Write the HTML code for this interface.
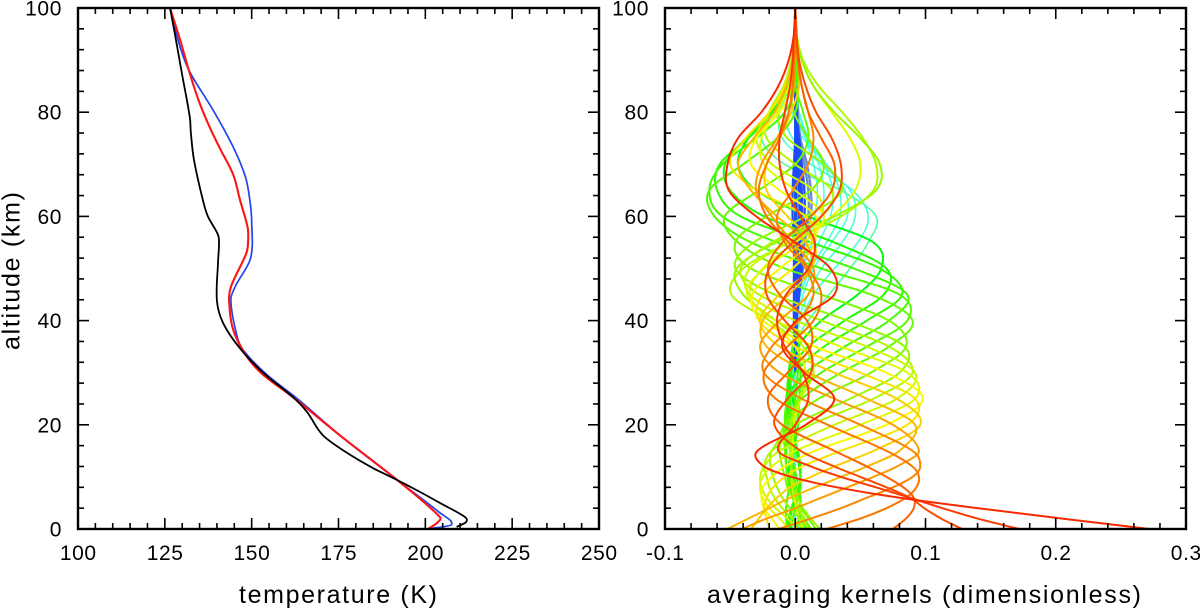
<!DOCTYPE html>
<html lang="en">
<head>
<meta charset="utf-8">
<title>Temperature profiles and averaging kernels</title>
<style>
html,body{margin:0;padding:0;background:#fff;}
svg{display:block;font-family:"Liberation Sans",Arial,sans-serif;}
</style>
</head>
<body>
<svg id="chart" xmlns="http://www.w3.org/2000/svg" width="1200" height="609" viewBox="0 0 1200 609">
  <defs>
    <clipPath id="clip-left"><rect x="78" y="8" width="521" height="521"/></clipPath>
    <clipPath id="clip-right"><rect x="665" y="8" width="521" height="521"/></clipPath>
  </defs>
  <g id="left-series" clip-path="url(#clip-left)"></g>
  <g id="right-series" clip-path="url(#clip-right)"></g>
  <g id="axes"></g>
  <text x="239" y="603" font-size="25" textLength="198" lengthAdjust="spacing">temperature (K)</text>
  <text x="707" y="603" font-size="25" textLength="434" lengthAdjust="spacing">averaging kernels (dimensionless)</text>
  <text transform="translate(19.5,350) rotate(-90)" font-size="25" textLength="158" lengthAdjust="spacing">altitude (km)</text>
</svg>
<script>
// ---- temperature panel data: altitude (km) and temperature (K) ----
const blackAltitudes = [0.4,1.3,2.3,5,7.1,9.4,11.7,14.6,18,22.5,25.3,30,34.7,39.5,43.8,51,54.9,56.5,60,63,70.8,76,79,87.5,95,100];
const blackTemps = [209,211.7,211.4,204.2,198.5,191.9,184.9,177.5,170.5,165.9,161.9,153.3,146.6,141.8,140,140.3,140.6,140.3,137.4,136,133.4,132.5,132.2,129.9,127.9,126.5];
const blueAltitudes = [0,0.8,3.2,9.4,17.5,25.1,29.6,34.4,37,44,46.7,52,59,63,67.6,73.3,80.4,87.7,92.5,100];
const blueTemps = [200.8,207.5,204,191.9,176.3,163,154.4,147.5,145.8,144,145.4,149.7,150,149.5,148.2,144.7,138.9,132.2,129.4,126.5];
const redAltitudes = [0,1.3,2.3,9.4,17.5,25.3,29.6,33,38.2,44,46.8,53,55.5,58,63,68,73,77,81.6,87.4,93.9,100];
const redTemps = [200.8,203.6,204.2,191.9,176.3,161.9,153.3,148.7,144.7,143.5,144.2,148.5,149,148.8,146.7,144.7,140.9,138,135.1,132.2,129.4,126.5];

// ---- tick labels ----
const tempTicks = [100,125,150,175,200,225,250];
const kernelTicks = ['-0.1','0.0','0.1','0.2','0.3'];
const altitudeTicks = [0,20,40,60,80,100];

// ---- averaging kernel data: shared altitude grid (km), values in 1e-3 ----
const kernelAltitudes = [0,2,4,6,8,10,12,15,20,25,30,35,40,45,50,55,60,65,70,75,80,85,90,95,100];
const kernelC01 = [272,205,140,80,32,-3,-24,-29,8,30, 7,-10,1,30,27,0,-30,-51,-52,-44, -26,-13,-5,-1,0];
const kernelC02 = [172,140,113,88,62,35,12,-13,0,10, 6,-8,-14,-7,10,15,4,-7,-12,-12, -8,-4,-2,-1,0];
const kernelC03 = [128,112,99,88,70,50,30,4,-16,-6, 12,10,-8,-22,-20,-2,20,34,35,28, 16,8,3,1,0];
const kernelC04 = [75,85,91,91,83,70,55,30,-10,-21, -6,12,9,-12,-21,-10,12,28,30,20, 10,5,2,1,0];
const kernelC05 = [24,50,70,85,93,95,90,70,25,-15, -24,-6,14,20,10,-5,-22,-28,-22,-12, -5,-2,-1,0,0];
const kernelC06 = [-13,12,35,55,75,90,96,90,50,5, -24,-18,3,14,8,-8,-14,-2,10,14, 10,5,2,1,0];
const kernelC07 = [-41,-22,0,20,40,60,78,95,75,30, -12,-27,-12,10,14,-2,-18,-30,-26,-14, -5,-1,0,0,0];
const kernelC08 = [-52,-36,-20,-4,15,35,55,80,92,55, 10,-22,-25,-5,12,8,-14,-34,-44,-32, -16,-7,-2,0,0];
const kernelC09 = [-34,-28,-22,-14,-4,12,30,60,96,78, 30,-12,-27,-12,12,14,-6,-22,-22,-12, -3,3,2,0,0];
const kernelC10 = [-20,-22,-24,-22,-17,-8,5,35,86,92, 50,0,-28,-25,-2,15,8,-30,-50,-38, -20,-8,-2,0,0];
const kernelC11 = [-12,-18,-24,-26,-25,-18,-8,15,70,98, 70,15,-25,-33,-12,12,16,-12,-34,-30, -12,-3,-1,0,0];
const kernelC12 = [-5,-12,-20,-25,-27,-25,-18,0,50,92, 86,35,-15,-37,-24,6,22,0,-24,-26, -14,-5,-1,0,0];
const kernelC13 = [2,-6,-15,-22,-26,-27,-24,-12,30,78, 92,55,0,-35,-35,-6,20,14,-18,-30, -20,-8,-2,0,0];
const kernelC14 = [6,-2,-10,-16,-20,-22,-24,-18,12,60, 90,72,20,-28,-42,-18,20,28,0,-22, -20,-9,-3,0,0];
const kernelC15 = [10,4,-4,-10,-14,-17,-19,-18,0,42, 80,84,40,-16,-46,-32,8,36,22,-6, -14,-8,-3,0,0];
const kernelC16 = [16,10,4,-2,-6,-8,-10,-12,-8,18, 58,85,72,20,-34,-46,-22,12,22,10, -1,-4,-2,0,0];
const kernelC17 = [12,7,2,-2,-5,-6,-7,-8,-8,5, 35,72,90,58,-8,-44,-54,-28,0,10, 6,0,-1,0,0];
const kernelC18 = [10,6,2,-1,-3,-4,-4,-4,-8,-4, 20,55,86,80,20,-34,-62,-66,-40,-14, 0,2,1,0,0];
const kernelC19 = [8,5,2,0,-1,-2,-2,-2,-6,-6, 8,38,72,86,45,-14,-56,-66,-56,-30, -8,0,1,0,0];
const kernelC20 = [-6,-5,-3,0,3,4,4,2,-4,-7, 0,22,55,82,65,12,-42,-60,-58,-36, -16,-5,-1,0,0];
const kernelC21 = [-4,-4,-2,1,3,4,3,1,-3,-6, -4,10,38,68,70,30,-24,-50,-54,-38, -18,-6,-1,0,0];
const kernelC22 = [4,3,1,-2,-4,-5,-5,-3,0,-2, -5,2,20,48,66,60,10,-30,-44,-36, -18,-6,-1,0,0];
const kernelC23 = [2,2,1,-1,-3,-4,-3,-1,2,-1, -4,-2,10,26,42,56,62,35,-8,-26, -16,-6,-1,0,0];
const kernelC24 = [0,0,0,0,0,0,0,0,0,0, -2,-2,4,14,30,48,56,44,12,-10, -12,-4,-1,0,0];
const kernelC25 = [0,0,0,0,0,0,0,0,0,0, -1,-1,2,10,20,36,46,42,20,-2, -8,-3,-1,0,0];
const kernelC26 = [0,0,0,0,0,0,0,0,0,0, -1,0,1,6,14,28,40,38,24,6, -2,-2,-1,0,0];
const kernelC27 = [0,0,0,0,0,0,0,0,0,0, 0,0,1,4,12,24,34,34,24,8, 1,-1,0,0,0];
const kernelC28 = [0,0,0,0,0,0,0,0,0,0, 0,0,0,3,9,18,27,29,22,10, 3,0,0,0,0];
const kernelC29 = [0,0,0,0,0,0,0,0,0,0, 0,0,0,2,6,13,20,22,18,10, 3,1,0,0,0];
const kernelC30 = [0,0,0,0,0,0,0,0,0,0, 0,0,0,1,4,9,15,17,14,8, 3,1,0,0,0];
const kernelL01 = [19,12,6,2,0,-2,-3,-4,-4,2, 12,10,-15,-40,-45,-15,30,62,65,50, 30,14,5,1,0];
const kernelL02 = [10,6,3,0,-2,-3,-3,-3,-3,4, 14,6,-20,-49,-40,-5,35,60,62,52, 36,18,6,1,0];
const kernelL03 = [6,3,1,-1,-2,-3,-3,-2,-1,4, 8,0,-20,-35,-25,0,28,46,50,42, 28,14,5,1,0];
const kernelG01 = [-6,-7,-7,-6,-5,-6,-7,-7,-6,-5, -3,-1,0,1,1,0,0,0,0,0, 0,0,0,0,0];
const kernelG02 = [-3,-2,0,2,4,4,3,1,-2,-4, -5,-2,0,2,2,0,0,0,0,0, 0,0,0,0,0];
const kernelG03 = [1,3,4,4,3,1,-1,-3,-3,0, 2,3,1,0,0,0,0,0,0,0, 0,0,0,0,0];
const kernelG04 = [5,5,4,3,1,-1,-2,-1,2,3, 4,2,0,0,0,0,0,0,0,0, 0,0,0,0,0];

// Blue kernels are only visible from 30 km to 85 km, so they use their own grid.
const blueKernelAltitudes = [30,35,40,45,50,55,60,65,70,75,80,85];
const kernelB01 = [0,0,-1,-1,-1,-1,-2,-2,-1,0,0,0];
const kernelB02 = [0,0,0,0,0,0,0,0,0,0,0,0];
const kernelB03 = [0,1,0,1,1,1,1,1,1,1,0,0];
const kernelB04 = [0,1,1,1,2,1,3,3,2,1,1,0];
const kernelB05 = [0,0,1,2,3,2,4,4,3,1,1,0];
const kernelB06 = [0,0,1,3,4,3,5,5,4,2,1,0];
const kernelB07 = [0,0,1,3,5,4,7,7,5,3,1,1];
const kernelB08 = [0,0,1,2,5,6,10,10,7,3,1,0];
const kernelB09 = [0,0,0,2,6,7,12,12,9,4,2,1];

// Drawn in this order: cyan and band greens, then blue, then the rest, with reds on top.
const kernelSeries = [kernelC30,kernelC29,kernelC28,kernelC27,kernelC26,kernelC25,kernelC24,kernelC23,kernelG01,kernelG02,kernelG03,kernelG04,
  kernelB09,kernelB08,kernelB07,kernelB06,kernelB05,kernelB04,kernelB03,kernelB02,kernelB01,
  kernelC22,kernelC21,kernelC20,kernelC19,kernelC18,kernelC17,kernelC16,
  kernelL03,kernelL02,kernelL01,
  kernelC15,kernelC14,kernelC13,kernelC12,kernelC11,kernelC10,kernelC09,kernelC08,kernelC07,kernelC06,kernelC05,kernelC04,kernelC03,kernelC02,kernelC01];
const kernelHues = [172,172,172,170,170,168,165,150,105,105,105,105,
  222,222,228,228,228,228,228,228,228,
  125,112,108,104,100,96,90,
  66,78,84,
  84,78,72,66,60,55,50,44,38,32,28,24,18,14,10];

// ---- axis functions ----
const PANEL_TOP = 8, PANEL_BOTTOM = 529, LEFT_X0 = 78, LEFT_X1 = 599, RIGHT_X0 = 665, RIGHT_X1 = 1186;
function yAlt(z){ return PANEL_BOTTOM - (z / 100) * (PANEL_BOTTOM - PANEL_TOP); }
function xTemp(t){ return LEFT_X0 + ((t - 100) / 150) * (LEFT_X1 - LEFT_X0); }
function xKernel(k){ return RIGHT_X0 + ((k + 0.1) / 0.4) * (RIGHT_X1 - RIGHT_X0); }

const SVGNS = 'http://www.w3.org/2000/svg';
const leftSeries = document.getElementById('left-series');
const rightSeries = document.getElementById('right-series');
const axes = document.getElementById('axes');

// Smooth path through data points, expressed as cubic Bezier segments in (value, altitude).
function splinePath(alts, values, xScale){
  const n = values.length;
  const slope = values.map(function(v, i){
    const a = Math.max(0, i - 1), b = Math.min(n - 1, i + 1);
    return (values[b] - values[a]) / (alts[b] - alts[a]);
  });
  let d = 'M' + xScale(values[0]).toFixed(2) + ' ' + yAlt(alts[0]).toFixed(2);
  for (let i = 0; i < n - 1; i++){
    const h = alts[i + 1] - alts[i];
    const c1v = values[i] + slope[i] * h / 3;
    const c2v = values[i + 1] - slope[i + 1] * h / 3;
    d += 'C' + xScale(c1v).toFixed(2) + ' ' + yAlt(alts[i] + h / 3).toFixed(2) +
         ' ' + xScale(c2v).toFixed(2) + ' ' + yAlt(alts[i + 1] - h / 3).toFixed(2) +
         ' ' + xScale(values[i + 1]).toFixed(2) + ' ' + yAlt(alts[i + 1]).toFixed(2);
  }
  return d;
}

function drawTemp(alts, temps, color, name, width){
  const p = document.createElementNS(SVGNS, 'path');
  p.setAttribute('d', splinePath(alts, temps, xTemp));
  p.setAttribute('fill', 'none');
  p.setAttribute('stroke', color);
  p.setAttribute('stroke-width', width);
  p.setAttribute('stroke-linejoin', 'round');
  
  
  leftSeries.appendChild(p);
}
drawTemp(blueAltitudes, blueTemps, '#2244ee', 'blue-temperature-line', '1.7');
drawTemp(redAltitudes, redTemps, '#ff1414', 'red-temperature-line', '2.1');
drawTemp(blackAltitudes, blackTemps, '#000', 'black-temperature-line', '1.8');

function kernelColor(hue){
  if (hue === 222) return 'hsl(222,55%,62%)';
  if (hue > 200) return 'hsl(228,100%,56%)';
  if (hue > 140) return 'hsl(' + hue + ',100%,65%)';
  return 'hsl(' + hue + ',100%,49%)';
}
kernelSeries.forEach(function(values, i){
  const hue = kernelHues[i];
  const alts = hue > 200 ? blueKernelAltitudes : kernelAltitudes;
  const p = document.createElementNS(SVGNS, 'path');
  p.setAttribute('d', splinePath(alts, values.map(function(v){ return v / 1000; }), xKernel));
  p.setAttribute('fill', 'none');
  p.setAttribute('stroke', kernelColor(hue));
  p.setAttribute('stroke-width', hue > 200 ? '2.3' : (hue > 140 ? '1.6' : '2'));
  
  
  rightSeries.appendChild(p);
});

// ---- frames, ticks, labels ----
function line(x1, y1, x2, y2, w, name){
  const l = document.createElementNS(SVGNS, 'line');
  l.setAttribute('x1', x1);
  l.setAttribute('y1', y1);
  l.setAttribute('x2', x2);
  l.setAttribute('y2', y2);
  l.setAttribute('stroke', '#000');
  l.setAttribute('stroke-width', w);
  
  
  axes.appendChild(l);
}
function label(x, y, str, anchor, name){
  const t = document.createElementNS(SVGNS, 'text');
  t.setAttribute('x', x);
  t.setAttribute('y', y);
  t.setAttribute('font-size', '21');
  t.setAttribute('letter-spacing', '0.6');
  t.setAttribute('text-anchor', anchor);
  
  
  t.textContent = str;
  axes.appendChild(t);
}
function panel(x0, x1, xVals, xScale, xLabels, namePrefix){
  const frame = document.createElementNS(SVGNS, 'rect');
  frame.setAttribute('x', x0);
  frame.setAttribute('y', PANEL_TOP);
  frame.setAttribute('width', x1 - x0);
  frame.setAttribute('height', PANEL_BOTTOM - PANEL_TOP);
  frame.setAttribute('fill', 'none');
  frame.setAttribute('stroke', '#000');
  frame.setAttribute('stroke-width', '2.4');
  
  
  axes.appendChild(frame);
  // x ticks: five minor intervals per labelled interval
  for (let i = 0; i < xVals.length - 1; i++){
    for (let j = 0; j < 5; j++){
      const x = xScale(xVals[i] + (xVals[i + 1] - xVals[i]) * j / 5);
      const len = j === 0 ? 11 : 6;
      if (i === 0 && j === 0) continue;
      line(x, PANEL_BOTTOM, x, PANEL_BOTTOM - len, 1.6, namePrefix + '-x-tick-bottom');
      line(x, PANEL_TOP, x, PANEL_TOP + len, 1.6, namePrefix + '-x-tick-top');
    }
  }
  xVals.forEach(function(v, i){
    const x = xScale(v);
    label(x + 0.3, 560, xLabels[i], 'middle', namePrefix + '-x-tick-label');
  });
  // y ticks
  for (let i = 0; i < altitudeTicks.length - 1; i++){
    for (let j = 0; j < 5; j++){
      const y = yAlt(altitudeTicks[i] + (altitudeTicks[i + 1] - altitudeTicks[i]) * j / 5);
      const len = j === 0 ? 11 : 6;
      if (i === 0 && j === 0) continue;
      line(x0, y, x0 + len, y, 1.6, namePrefix + '-y-tick-left');
      line(x1, y, x1 - len, y, 1.6, namePrefix + '-y-tick-right');
    }
  }
  altitudeTicks.forEach(function(v){
    label(x0 - 16, yAlt(v) + 7.5, String(v), 'end', namePrefix + '-y-tick-label');
  });
}
panel(LEFT_X0, LEFT_X1, tempTicks, xTemp, tempTicks.map(String), 'temperature');
panel(RIGHT_X0, RIGHT_X1, kernelTicks.map(Number), xKernel, kernelTicks, 'kernel');
</script>
</body>
</html>
